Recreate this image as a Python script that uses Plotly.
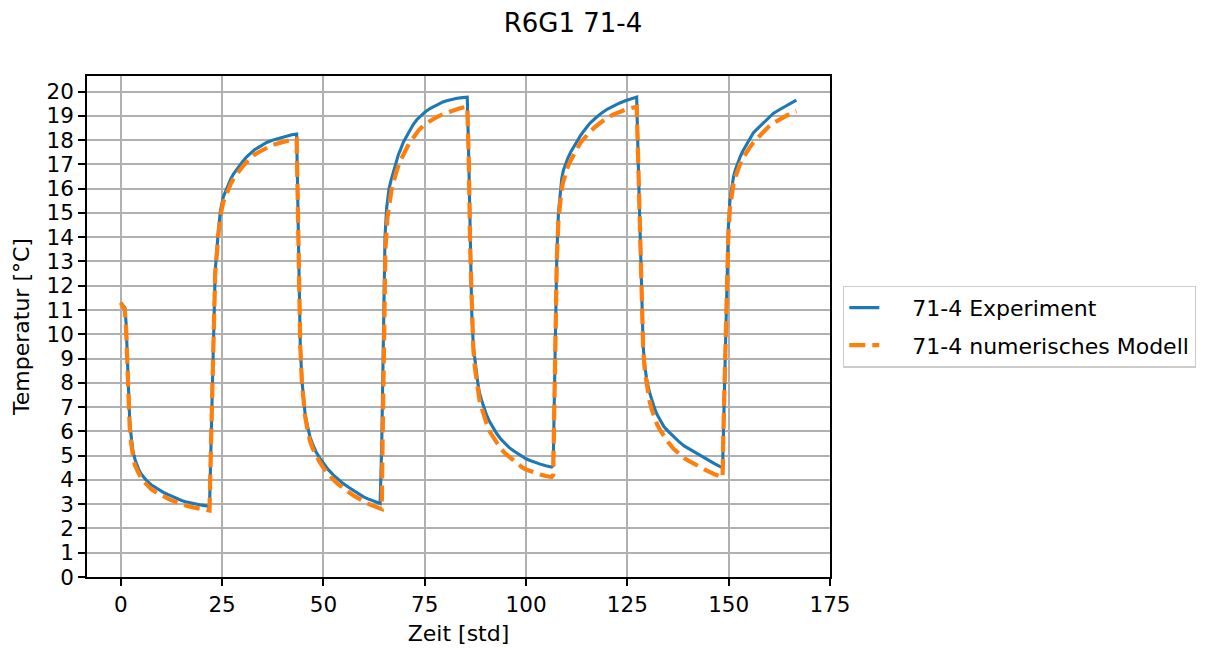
import plotly.graph_objects as go

# ---- data ----
exp_t = [0, 0.5, 1.0, 1.3, 1.5, 1.9, 2.2, 2.5, 2.75, 3.0, 3.5, 4.0, 4.5, 5.0, 5.6, 6.5, 7.5, 8.6, 9.7, 10.8, 12, 13.8, 15, 16, 17.9, 20, 21.9,
         22.2, 22.4, 22.9, 23.3, 24.1, 24.6, 25.3, 26.0, 26.5, 27.2, 27.8, 29, 30, 31, 31.9, 33, 34, 35, 36, 37.2, 38.5, 39.8, 41, 42.2, 43.4,
         43.8, 44.1, 44.3, 44.7, 45.1, 45.5, 46.1, 46.7, 47.4, 48.2, 49.1, 50, 51.2, 52.5, 53.7, 54.9, 56.2, 57.5, 58.7, 59.9, 61, 62, 63, 64.0,
         64.4, 64.8, 65.2, 65.6, 66.2, 66.7, 67.1, 67.6, 68.0, 68.5, 69.0, 69.7, 70.5, 71.3, 72.2, 73.1, 74, 75.1, 76.3, 77.4, 78.5, 79.5, 80.4, 81.7, 83, 84.3, 85.5,
         85.9, 86.2, 86.6, 87.0, 87.4, 87.8, 88.1, 88.5, 89.0, 89.5, 90.2, 91, 91.9, 92.8, 93.8, 94.8, 95.8, 96.9, 98, 99, 100, 101, 102.2, 103.5, 104.9, 106.3,
         106.7, 107.0, 107.2, 107.6, 108.0, 108.4, 108.8, 109.2, 109.7, 110.3, 111.0, 111.7, 112.6, 113.5, 114.6, 115.8, 117.1, 118.5, 120, 121.5, 123, 124.5, 125.9, 127.3,
         127.7, 128.2, 128.6, 128.9, 129.3, 129.8, 130.4, 131, 131.6, 132.3, 133.1, 134, 135.1, 136.3, 137.6, 139, 140.5, 142.1, 143.5, 145, 146.7, 148.5,
         148.7, 149.1, 149.5, 149.9, 150.3, 150.8, 151.2, 151.7, 152.2, 152.8, 153.5, 154.3, 155.2, 156.1, 157.3, 158.5, 159.7, 161, 162.5, 164, 165.3, 166.7]
exp_T = [11.3, 11.2, 11.1, 10.5, 9.5, 7.4, 6.5, 5.9, 5.5, 5.2, 4.85, 4.6, 4.4, 4.25, 4.12, 3.95, 3.8, 3.68, 3.57, 3.46, 3.37, 3.23, 3.15, 3.1, 3.02, 2.96, 2.91,
         5.0, 6.7, 10.2, 12.6, 14.3, 15.1, 15.66, 15.95, 16.2, 16.42, 16.6, 16.9, 17.1, 17.3, 17.45, 17.6, 17.7, 17.8, 17.9, 17.98, 18.05, 18.12, 18.17, 18.22, 18.25,
         14.0, 12.0, 9.5, 8.1, 7.3, 6.7, 6.2, 5.77, 5.45, 5.15, 4.9, 4.67, 4.42, 4.2, 4.02, 3.85, 3.7, 3.55, 3.42, 3.3, 3.22, 3.15, 3.09, 3.03,
         5.5, 9.5, 14.0, 15.2, 16.0, 16.35, 16.6, 16.9, 17.15, 17.4, 17.6, 17.9, 18.15, 18.4, 18.65, 18.85, 19.0, 19.16, 19.3, 19.4, 19.5, 19.57, 19.62, 19.68, 19.72, 19.75, 19.77,
         17.0, 13.6, 10.9, 9.5, 8.8, 8.4, 8.0, 7.6, 7.3, 7.0, 6.7, 6.4, 6.13, 5.9, 5.68, 5.5, 5.34, 5.2, 5.07, 4.95, 4.87, 4.8, 4.72, 4.65, 4.58, 4.53,
         4.6, 8.0, 10.9, 13.3, 15.0, 15.9, 16.4, 16.75, 17.0, 17.25, 17.5, 17.7, 17.95, 18.2, 18.45, 18.7, 18.9, 19.1, 19.27, 19.4, 19.52, 19.62, 19.7, 19.77,
         17.0, 13.5, 11.0, 9.5, 8.7, 8.1, 7.65, 7.3, 7.0, 6.7, 6.45, 6.2, 6.0, 5.8, 5.6, 5.4, 5.25, 5.1, 4.95, 4.8, 4.65, 4.5,
         6.0, 9.0, 10.9, 14.3, 15.5, 16.2, 16.5, 16.8, 17.05, 17.3, 17.55, 17.8, 18.05, 18.3, 18.5, 18.7, 18.9, 19.1, 19.25, 19.4, 19.53, 19.65]

mod_t = [0, 0.5, 1.0, 1.3, 1.5, 1.9, 2.2, 2.5, 2.75, 3.0, 3.5, 4.0, 4.5, 5.0, 5.6, 6.5, 7.5, 8.6, 9.7, 10.8, 12, 13.8, 15, 16, 17.9, 20, 21.9,
         22.2, 22.4, 22.9, 23.3, 24.1, 24.6, 25.3, 26.0, 26.5, 27.2, 27.8, 29, 30, 31, 31.9, 33, 34, 35, 36, 37.2, 38.5, 39.8, 41, 42.2, 43.4,
         43.8, 44.1, 44.3, 44.7, 45.1, 45.5, 46.1, 46.7, 47.4, 48.2, 49.1, 50, 51.2, 52.5, 53.7, 54.9, 56.2, 57.5, 58.7, 59.9, 61, 62, 63, 64.4,
         64.6, 64.9, 65.3, 65.8, 66.4, 66.8, 67.2, 67.6, 68.1, 69, 70, 71.1, 72.2, 73.5, 75, 76.5, 78, 79.7, 81.5, 83.5, 85.5,
         85.9, 86.2, 86.6, 87.0, 87.4, 87.8, 88.1, 88.5, 89.0, 89.5, 90.2, 91, 91.9, 92.8, 93.8, 94.8, 95.8, 96.9, 98, 99, 100, 101, 102.2, 103.5, 104.9, 106.3,
         106.7, 107.0, 107.2, 107.6, 108.0, 108.4, 108.8, 109.2, 109.7, 110.3, 111.0, 111.7, 112.6, 113.5, 114.6, 115.8, 117.1, 118.5, 120, 121.5, 123, 124.5, 125.9, 127.3,
         127.7, 128.2, 128.6, 128.9, 129.3, 129.8, 130.4, 131, 131.6, 132.3, 133.1, 134, 135.1, 136.3, 137.6, 139, 140.5, 142.1, 143.5, 145, 146.7, 148.5,
         148.7, 149.1, 149.5, 149.9, 150.3, 150.8, 151.2, 151.7, 152.2, 152.8, 153.5, 154.3, 155.2, 156.1, 157.3, 158.5, 159.7, 161, 162.5, 164, 165.3, 166.7]
mod_T = [11.3, 11.15, 11.0, 10.3, 9.3, 7.2, 6.2, 5.6, 5.25, 5.0, 4.6, 4.38, 4.2, 4.06, 3.95, 3.78, 3.62, 3.5, 3.4, 3.3, 3.2, 3.08, 3.0, 2.95, 2.87, 2.8, 2.74,
         5.0, 6.7, 10.2, 12.5, 14.1, 14.9, 15.45, 15.75, 16.0, 16.22, 16.4, 16.7, 16.9, 17.08, 17.25, 17.4, 17.5, 17.6, 17.7, 17.78, 17.85, 17.92, 17.97, 18.02, 18.05,
         14.0, 12.0, 9.5, 8.0, 7.2, 6.6, 6.05, 5.6, 5.28, 5.0, 4.73, 4.5, 4.24, 4.0, 3.82, 3.65, 3.5, 3.35, 3.22, 3.1, 3.02, 2.95, 2.88, 2.8,
         5.5, 9.5, 13.5, 14.8, 15.6, 15.95, 16.2, 16.5, 16.75, 17.15, 17.5, 17.85, 18.1, 18.4, 18.65, 18.82, 18.95, 19.08, 19.2, 19.3, 19.38,
         17.0, 13.6, 10.9, 9.4, 8.6, 8.1, 7.7, 7.3, 7.0, 6.7, 6.35, 6.0, 5.75, 5.5, 5.28, 5.1, 4.95, 4.8, 4.64, 4.52, 4.43, 4.36, 4.28, 4.22, 4.16, 4.12,
         4.2, 8.0, 10.8, 13.1, 14.7, 15.6, 16.0, 16.3, 16.6, 16.9, 17.15, 17.4, 17.65, 17.9, 18.13, 18.35, 18.55, 18.75, 18.92, 19.05, 19.16, 19.25, 19.32, 19.37,
         17.0, 13.5, 11.0, 9.4, 8.5, 7.8, 7.3, 6.9, 6.6, 6.3, 6.05, 5.8, 5.55, 5.3, 5.1, 4.9, 4.75, 4.6, 4.47, 4.35, 4.22, 4.1,
         6.0, 9.0, 10.9, 14.0, 15.2, 15.9, 16.2, 16.5, 16.75, 17.0, 17.25, 17.5, 17.7, 17.9, 18.13, 18.35, 18.53, 18.7, 18.85, 19.0, 19.1, 19.2]

assert len(exp_t) == len(exp_T), (len(exp_t), len(exp_T))
assert len(mod_t) == len(mod_T), (len(mod_t), len(mod_T))

series_names = ["71-4 Experiment", "71-4 numerisches Modell"]
x_ticks = [0, 25, 50, 75, 100, 125, 150, 175]
y_ticks = list(range(0, 21))

FONT = "DejaVu Sans"
# the page body has an 8px margin; compensate so the picture sits like the reference
OFF = 8
W, H = 1218 - OFF, 648 - OFF
PAD = "\u00a0" * 4  # pushes legend text right, like the longer line samples of the reference

fig = go.Figure()
fig.add_trace(go.Scatter(x=exp_t, y=exp_T, mode="lines", name=PAD + series_names[0],
                         line=dict(color="#1f77b4", width=3.1), legendgroup="a"))
fig.add_trace(go.Scatter(x=mod_t, y=mod_T, mode="lines", name=PAD + series_names[1],
                         line=dict(color="#ff7f0e", width=4.2, dash="16px,7px"), legendgroup="b"))

axis_common = dict(showline=True, linecolor="black", linewidth=1.7, mirror=True,
                   ticks="outside", ticklen=7, tickwidth=1.7, tickcolor="black",
                   showgrid=True, gridcolor="#b0b0b0", gridwidth=1.7, zeroline=False,
                   tickfont=dict(family=FONT, size=21.5, color="black"))

fig.update_xaxes(range=[-8.33, 175], tickvals=x_ticks,
                 title=dict(text="Zeit [std]", font=dict(family=FONT, size=22, color="black"), standoff=10),
                 **axis_common)
fig.update_yaxes(range=[0, 20.64], tickvals=y_ticks,
                 title=dict(text="Temperatur [°C]", font=dict(family=FONT, size=22, color="black"), standoff=11),
                 **axis_common)

fig.update_layout(
    width=W, height=H,
    margin=dict(l=87 - OFF, r=1218 - 830, t=76 - OFF, b=648 - 577, autoexpand=False),
    paper_bgcolor="white", plot_bgcolor="white",
    font=dict(family=FONT, size=22, color="black"),
    title=dict(text="R6G1 71-4", font=dict(family=FONT, size=26, color="black"),
               x=(573 - OFF) / W, xanchor="center", xref="container",
               y=1 - (23 - OFF) / H, yanchor="middle", yref="container"),
    legend=dict(x=1.0175, xanchor="left", y=0.5, yanchor="middle",
                bordercolor="#cccccc", borderwidth=1.3, bgcolor="white",
                font=dict(family=FONT, size=22, color="black"), tracegroupgap=6),
    showlegend=True,
)

fig.write_html("out.html")
